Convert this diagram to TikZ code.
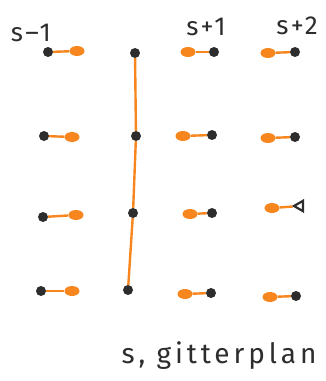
\documentclass[tikz,border=0pt]{standalone}
\usepackage{fontspec}
\setsansfont{Fira Sans}
\usetikzlibrary{shapes.geometric}
\definecolor{penorange}{RGB}{247,134,30}
\definecolor{pengray}{RGB}{45,45,45}

\begin{document}
\begin{tikzpicture}[x=1pt,y=-1pt,
  svart/.style={circle,fill=pengray,inner sep=0pt,minimum size=10pt},
  klatt/.style={ellipse,fill=penorange,inner sep=0pt,minimum width=15pt,minimum height=10pt},
  strek/.style={draw=penorange,line width=2.4pt},
  etikett/.style={font=\sffamily\fontsize{26}{28}\selectfont\addfontfeatures{LetterSpace=10},text=pengray}]
\useasboundingbox (0,0) rectangle (326,381);
% column labels
\node[etikett] (ls1) at (31,33) {s–1};
\node[etikett] (ls3) at (206,27) {s+1};
\node[etikett] (ls4) at (297,26) {s+2};
% column s-1: black dot left, orange end right
\foreach \i/\bx/\by/\ox/\oy in {1/48/52/77/51, 2/44/136/72/137, 3/43/217/76/215, 4/41/291/72/291} {
  \node[svart] (a\i) at (\bx,\by) {};
  \node[klatt] (ao\i) at (\ox,\oy) {};
  \draw[strek] (a\i) -- (ao\i);
}
% column s: one vertical line through the dots
\foreach \i/\bx/\by in {1/135/53, 2/136/136, 3/133/213, 4/128/290} {
  \node[svart] (m\i) at (\bx,\by) {};
}
\draw[strek] (m1) -- (m2) -- (m3) -- (m4);
% column s+1: orange end left, black dot right
\foreach \i/\bx/\by/\ox/\oy in {1/214/52/188/52, 2/212/135/183/136, 3/212/213/190/214, 4/211/293/185/294} {
  \node[svart] (c\i) at (\bx,\by) {};
  \node[klatt] (co\i) at (\ox,\oy) {};
  \draw[strek] (co\i) -- (c\i);
}
% column s+2
\foreach \i/\bx/\by/\ox/\oy in {1/295/52/268/53, 2/295/137/268/138, 4/296/296/270/297} {
  \node[svart] (d\i) at (\bx,\by) {};
  \node[klatt] (do\i) at (\ox,\oy) {};
  \draw[strek] (do\i) -- (d\i);
}
\node[regular polygon,regular polygon sides=3,shape border rotate=90,draw=pengray,line width=2.2pt,fill=white,inner sep=0pt,minimum size=12pt] (d3) at (300,206) {};
\node[klatt] (do3) at (272,208) {};
\draw[strek] (do3) -- (d3);
% caption
\node[etikett,font=\sffamily\fontsize{28}{30}\selectfont\addfontfeatures{LetterSpace=14},anchor=base] (tittel) at (219,363) {s, gitterplan};
\end{tikzpicture}
\end{document}
